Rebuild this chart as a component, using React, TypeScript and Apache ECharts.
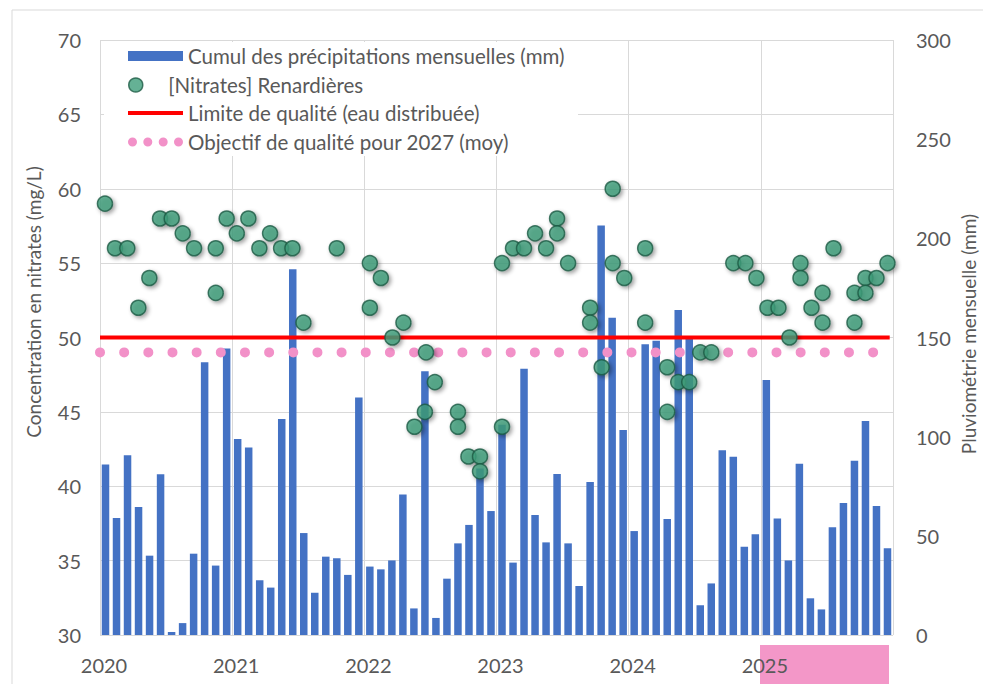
import React, { useEffect, useRef } from 'react';
import * as echarts from 'echarts';

// ---- DATA ----
const yearLabels = ['2020', '2021', '2022', '2023', '2024', '2025'];

// Monthly cumulated rainfall (mm), Jan 2020 -> Dec 2025
const precipitation = [
  86, 59, 90.6, 64.5, 40, 81, 1.5, 6, 41, 137.5, 35, 144.5,
  98.8, 94.6, 27.6, 23.9, 108.9, 184.4, 51.4, 21.3, 39.5, 38.7, 30.3, 119.7,
  34.5, 33.1, 37.6, 70.8, 13.4, 133, 8.6, 28.4, 46.2, 55.5, 84, 62.5,
  106, 36.5, 134.3, 60.5, 46.7, 81.2, 46.2, 24.7, 77.1, 206.5, 160, 103.4,
  52.4, 146.6, 148.4, 58.5, 163.9, 149.6, 15, 26, 93.1, 89.9, 44.5, 50.8,
  128.6, 58.8, 37.6, 86.4, 18.5, 12.9, 54.3, 66.6, 87.9, 107.9, 65, 43.7,
];

// Nitrate samples: position in months since Jan 2020, and concentration (mg/L)
const nitrateMonths = [
  0.45, 1.36, 2.48, 3.48, 4.48, 5.45, 6.51, 7.51, 8.54, 10.51, 10.51, 11.5,
  12.42, 13.47, 14.47, 15.44, 16.44, 17.47, 18.47, 21.5,
  24.5, 24.5, 25.5, 26.55, 27.55, 28.55, 29.5, 29.6, 30.4, 32.5, 32.5, 33.45, 34.5, 34.5,
  36.5, 36.5, 37.5, 38.5, 39.5, 40.5, 41.5, 41.5, 42.5, 44.5, 44.5, 45.55, 46.55, 46.55, 47.6,
  49.5, 49.5, 51.5, 51.5, 52.5, 53.5, 54.5, 55.5, 57.5, 58.6, 59.6,
  60.6, 61.6, 62.6, 63.6, 63.6, 64.6, 65.6, 65.6, 66.6, 68.5, 68.5, 69.5, 69.5, 70.5, 71.5,
];
const nitrateValues = [
  59, 56, 56, 52, 54, 58, 58, 57, 56, 53, 56, 58,
  57, 58, 56, 57, 56, 56, 51, 56,
  55, 52, 54, 50, 51, 44, 45, 49, 47, 45, 44, 42, 42, 41,
  55, 44, 56, 56, 57, 56, 58, 57, 55, 52, 51, 48, 60, 55, 54,
  56, 51, 48, 45, 47, 47, 49, 49, 55, 55, 54,
  52, 52, 50, 55, 54, 52, 53, 51, 56, 53, 51, 54, 53, 54, 55,
];

const qualityLimit = 50;
const qualityObjective = 49;

const names = {
  rain: 'Cumul des précipitations mensuelles (mm)',
  nitrate: '[Nitrates] Renardières',
  limit: 'Limite de qualité (eau distribuée)',
  objective: 'Objectif de qualité pour 2027 (moy)',
};
const leftAxisTitle = 'Concentration en nitrates (mg/L)';
const rightAxisTitle = 'Pluviométrie mensuelle (mm)';

const FONT = 'Lato';
const TEXT = '#595959';
const GRID = '#d9d9d9';

export default function App() {
  const ref = useRef<HTMLDivElement>(null);

  useEffect(() => {
    document.body.style.margin = '0';
    if (!ref.current) return;
    const chart = echarts.init(ref.current, null, { renderer: 'svg' });
    const totalMonths = yearLabels.length * 12;

    const legendBase = {
      left: 128,
      orient: 'horizontal' as const,
      padding: 0,
      itemGap: 0,
      selectedMode: false,
      textStyle: { color: TEXT, fontSize: 20.5, fontFamily: FONT, lineHeight: 24 },
    };

    const option: any = {
      animation: false,
      backgroundColor: '#ffffff',
      textStyle: { fontFamily: FONT },
      grid: { left: 100, right: 90, top: 40, bottom: 49, containLabel: false },
      xAxis: {
        type: 'value',
        min: 0,
        max: totalMonths,
        interval: 12,
        axisLine: { show: false },
        axisTick: { show: false },
        splitLine: { show: true, lineStyle: { color: GRID, width: 1 } },
        axisLabel: {
          color: TEXT,
          fontSize: 20,
          fontFamily: FONT,
          margin: 20,
          padding: [0, 0, 0, 8],
          formatter: (v: number) => {
            const idx = Math.round(v / 12);
            return idx < yearLabels.length ? yearLabels[idx] : '';
          },
        },
      },
      yAxis: [
        {
          type: 'value',
          min: 30,
          max: 70,
          interval: 5,
          position: 'left',
          axisLine: { show: false },
          axisTick: { show: false },
          splitLine: { show: true, lineStyle: { color: GRID, width: 1 } },
          axisLabel: { color: TEXT, fontSize: 20, fontFamily: FONT, margin: 19 },
        },
        {
          type: 'value',
          min: 0,
          max: 300,
          interval: 50,
          position: 'right',
          axisLine: { show: false },
          axisTick: { show: false },
          splitLine: { show: false },
          axisLabel: { color: TEXT, fontSize: 20, fontFamily: FONT, margin: 23 },
        },
      ],
      legend: [
        {
          ...legendBase,
          top: 44,
          data: [names.rain],
          icon: 'rect',
          itemWidth: 55,
          itemHeight: 10,
          itemStyle: { color: '#4472c4', borderWidth: 0 },
        },
        {
          ...legendBase,
          top: 73,
          data: [names.nitrate],
          icon: 'circle',
          itemWidth: 55,
          itemHeight: 14,
          itemStyle: { color: '#3f9e7b', borderColor: '#1c5a43', borderWidth: 1.5, shadowBlur: 0, shadowOffsetX: 0, shadowOffsetY: 0 },
        },
        {
          ...legendBase,
          top: 101,
          data: [names.limit],
          icon: 'rect',
          itemWidth: 55,
          itemHeight: 4,
          itemStyle: { color: '#ff0000', borderWidth: 0 },
        },
        {
          ...legendBase,
          top: 130,
          data: [names.objective],
          icon:
            'path://M0,4.5a4.5,4.5 0 1,0 9,0a4.5,4.5 0 1,0 -9,0Z' +
            'M15.3,4.5a4.5,4.5 0 1,0 9,0a4.5,4.5 0 1,0 -9,0Z' +
            'M30.7,4.5a4.5,4.5 0 1,0 9,0a4.5,4.5 0 1,0 -9,0Z' +
            'M46,4.5a4.5,4.5 0 1,0 9,0a4.5,4.5 0 1,0 -9,0Z',
          itemWidth: 55,
          itemHeight: 9,
          itemStyle: { color: '#f291c8', borderWidth: 0 },
        },
      ],
      graphic: [
        {
          type: 'rect',
          z: -10,
          shape: { x: 12, y: 10, width: 1200, height: 1000 },
          style: { fill: 'none', stroke: GRID, lineWidth: 1 },
          silent: true,
        },
        {
          type: 'rect',
          z: 1,
          shape: { x: 104, y: 42, width: 474, height: 114 },
          style: { fill: '#ffffff' },
          silent: true,
        },
        {
          type: 'rect',
          z: -5,
          shape: { x: 760, y: 645, width: 129, height: 45 },
          style: { fill: '#f397c8' },
          silent: true,
        },
        {
          type: 'text',
          x: 33,
          y: 302,
          rotation: Math.PI / 2,
          style: {
            text: leftAxisTitle,
            fill: TEXT,
            fontSize: 19,
            fontFamily: FONT,
            align: 'center',
            verticalAlign: 'middle',
          },
        },
        {
          type: 'text',
          x: 968,
          y: 334,
          rotation: Math.PI / 2,
          style: {
            text: rightAxisTitle,
            fill: TEXT,
            fontSize: 19,
            fontFamily: FONT,
            align: 'center',
            verticalAlign: 'middle',
          },
        },
      ],
      series: [
        {
          name: names.rain,
          type: 'bar',
          xAxisIndex: 0,
          yAxisIndex: 1,
          barWidth: 7.5,
          itemStyle: { color: '#4472c4' },
          z: 2,
          data: precipitation.map((v, i) => [i + 0.5, v]),
        },
        {
          name: names.objective,
          type: 'line',
          yAxisIndex: 0,
          symbol: 'none',
          color: '#f291c8',
          lineStyle: { color: '#f291c8', width: 10, type: [0.01, 24.15], cap: 'round' },
          z: 3,
          silent: true,
          data: [[0, qualityObjective], [totalMonths, qualityObjective]],
        },
        {
          name: names.limit,
          type: 'line',
          yAxisIndex: 0,
          symbol: 'none',
          color: '#ff0000',
          lineStyle: { color: '#ff0000', width: 4 },
          z: 4,
          silent: true,
          data: [[0, qualityLimit], [totalMonths - 0.3, qualityLimit]],
        },
        {
          name: names.nitrate,
          type: 'scatter',
          yAxisIndex: 0,
          symbol: 'circle',
          symbolSize: 15,
          itemStyle: {
            color: '#3f9e7b',
            borderColor: '#1c5a43',
            borderWidth: 1.5,
            shadowBlur: 4,
            shadowOffsetX: 2,
            shadowOffsetY: 2,
            shadowColor: 'rgba(0,0,0,0.45)',
          },
          z: 5,
          data: nitrateMonths.map((m, i) => [m, nitrateValues[i]]),
        },
      ],
    };

    chart.setOption(option);
    return () => chart.dispose();
  }, []);

  return <div ref={ref} style={{ width: 983, height: 684 }} />;
}
